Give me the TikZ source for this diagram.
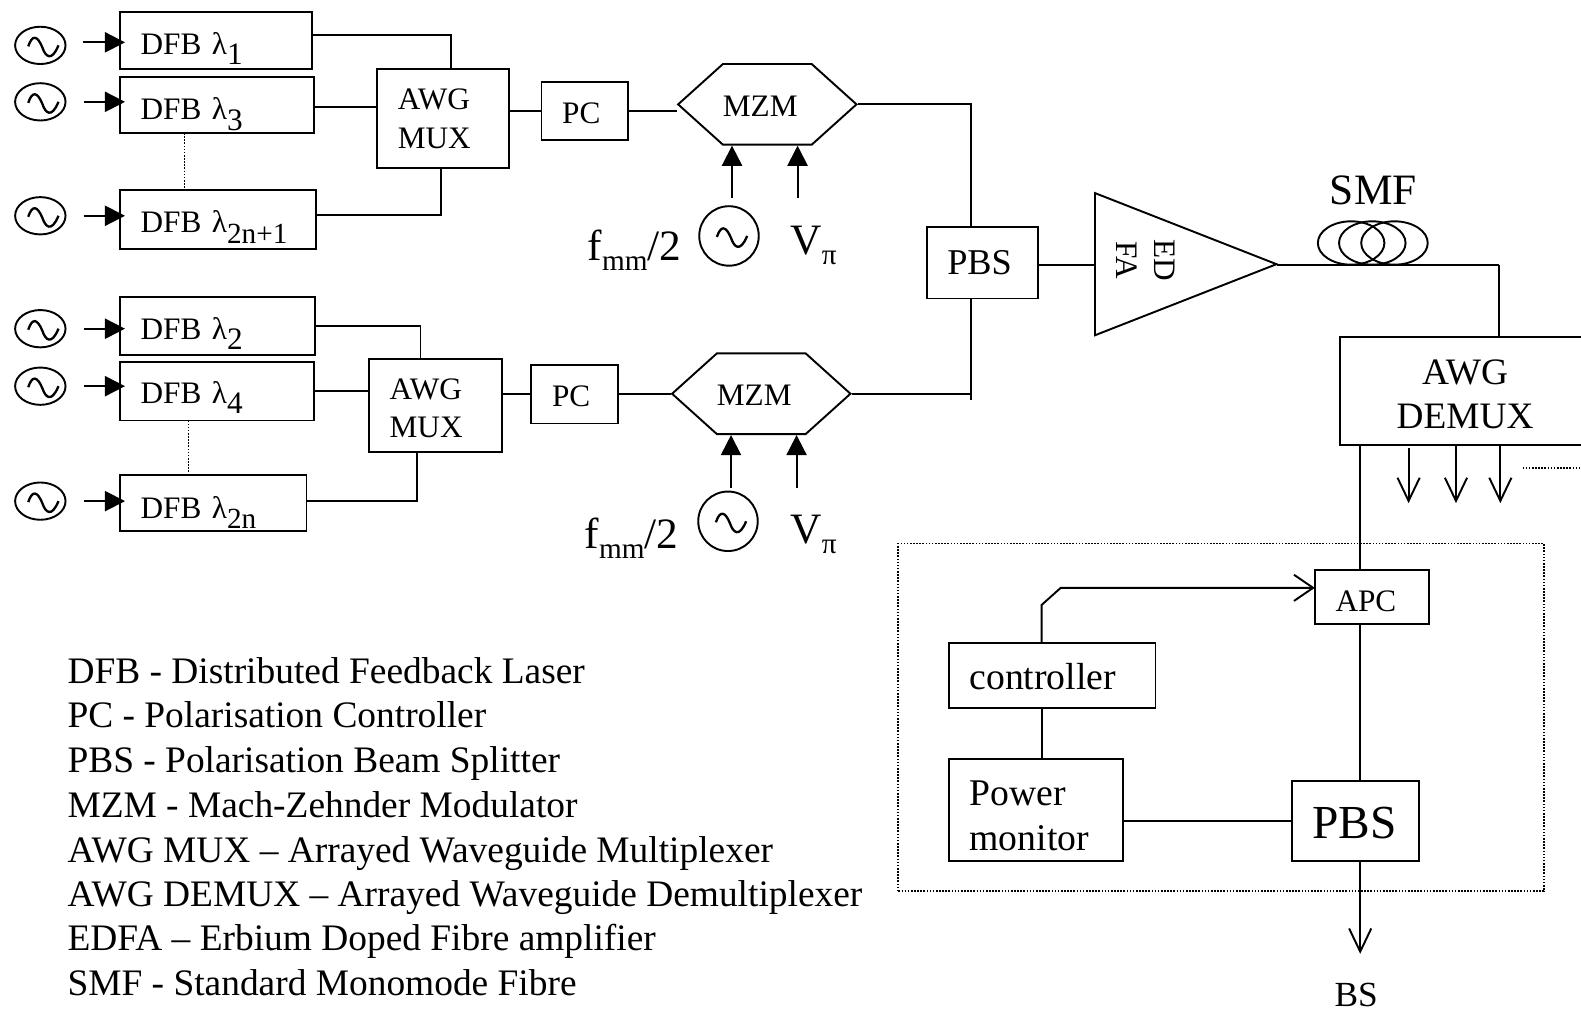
\documentclass[tikz,border=0pt]{standalone}
\usepackage{fontspec}
\setmainfont{Liberation Serif}
\usetikzlibrary{arrows.meta,shapes.geometric,shapes.symbols}

\newcommand{\lowidx}[1]{\raisebox{-10pt}{#1}}
\newcommand{\fsz}[1]{\fontsize{#1}{#1}\selectfont}

\begin{document}
\begin{tikzpicture}
[x=1pt,y=-1pt,line width=1.9pt,
wire/.style={black,line cap=butt},
dotline/.style={black,line width=1.8pt,dash pattern=on 1.6pt off 1.5pt},
feedarrow/.style={-{Triangle[length=20pt,width=20pt]},shorten <=17pt,shorten >=-5pt},
drivearrow/.style={-{Triangle[length=20pt,width=20pt]}},
openarrow/.style={-{Straight Barb[length=23pt,width=22pt]}},
blockbox/.style={draw,anchor=north west,inner xsep=20.5pt,inner ysep=0pt,outer sep=0pt,align=left,font=\fontsize{31}{38}\selectfont},
blockdim/.style n args={3}{text width=#1-41pt,text height=#2,text depth=#3},
sinewave/.style={path picture={\draw[shift={(path picture bounding box.center)},scale=#1,line width=2.3pt] (-12,1) .. controls (-8,-11) and (-3,-10) .. (2,2) .. controls (5,11) and (11,17) .. (18,0);}},
srcnode/.style={ellipse,draw,inner sep=0pt,minimum width=50,minimum height=37,sinewave=1.05},
drivenode/.style={circle,draw,inner sep=0pt,minimum size=59,sinewave=1.2},
mzmnode/.style={signal,signal to=west and east,signal pointer angle=84,draw,inner sep=0pt,minimum width=176,minimum height=80,text height=24,text depth=0,font=\fsz{31}},
coilnode/.style={ellipse,draw,inner sep=0pt,minimum width=66,minimum height=43},
labeltext/.style={anchor=base west,inner sep=0pt,font=\fsz{43}},
legendtext/.style={anchor=base west,inner sep=0pt,font=\fsz{37.1}}]

\useasboundingbox (0,0) rectangle (1568,1004);

% Upper laser bank
\node[srcnode](srcone) at (40,45){};
\node[srcnode](srcthree) at (40,101){};
\node[srcnode](srcodd) at (40,214){};
\node[blockbox,blockdim={190}{42}{14}](dfbone) at (119,12){DFB λ\lowidx{1}};
\node[blockbox,blockdim={192}{43}{13}](dfbthree) at (119,76){DFB λ\lowidx{3}};
\node[blockbox,blockdim={194}{43}{16}](dfbodd) at (119,188){DFB λ\lowidx{\fsz{29}2n+1}};
\coordinate (feedone) at (65,42);
\draw[wire,feedarrow] (feedone) -- (feedone -| dfbone.west);
\draw[wire,feedarrow] (srcthree.east) -- (srcthree.east -| dfbthree.west);
\draw[wire,feedarrow] (srcodd.east) -- (srcodd.east -| dfbodd.west);
\coordinate (dotup) at (183,160);
\draw[dotline] (dotup |- dfbthree.south) -- (dotup |- dfbodd.north);

% Upper mux and modulator
\node[blockbox,blockdim={131}{41}{58}](muxup) at (374,68){AWG\\MUX};
\coordinate (joinone) at (447,35);
\coordinate (jointhree) at (340,106);
\coordinate (joinodd) at (437,213);
\draw[wire] (dfbone.east |- joinone) -- (joinone) -- (joinone |- muxup.north);
\draw[wire] (dfbthree.east |- jointhree) -- (jointhree -| muxup.west);
\draw[wire] (dfbodd.east |- joinodd) -- (joinodd) -- (joinodd |- muxup.south);
\node[blockbox,blockdim={86}{41}{17}](pcup) at (537,81){PC};
\draw[wire] (muxup.east |- pcup.west) -- (pcup.west);
\node[mzmnode](mzmup) at (761,103.5){MZM\hspace*{14pt}};
\draw[wire] (pcup.east) -- (pcup.east -| mzmup.west);
\coordinate (driveupa) at (726,196);
\coordinate (driveupb) at (791,196);
\draw[wire,drivearrow] (driveupa) -- (driveupa |- mzmup.south);
\draw[wire,drivearrow] (driveupb) -- (driveupb |- mzmup.south);
\node[drivenode](driveup) at (723,234){};
\node[labeltext](fmmup) at (582,258){f\lowidx{\fsz{29}mm}/2};
\node[labeltext](vpiup) at (783,252){V\lowidx{\fsz{29}π}};

% Lower laser bank
\node[srcnode](srctwo) at (40,326){};
\node[srcnode](srcfour) at (40,383){};
\node[srcnode](srceven) at (40,497){};
\node[blockbox,blockdim={193}{42}{15}](dfbtwo) at (119,295){DFB λ\lowidx{2}};
\node[blockbox,blockdim={192}{41}{17}](dfbfour) at (119,359){DFB λ\lowidx{4}};
\node[blockbox,blockdim={185}{43}{13}](dfbeven) at (119,471){DFB λ\lowidx{\fsz{29}2n}};
\draw[wire,feedarrow] (srctwo.east) -- (srctwo.east -| dfbtwo.west);
\draw[wire,feedarrow] (srcfour.east) -- (srcfour.east -| dfbfour.west);
\draw[wire,feedarrow] (srceven.east) -- (srceven.east -| dfbeven.west);
\coordinate (dotlow) at (187,440);
\draw[dotline] (dotlow |- dfbfour.south) -- (dotlow |- dfbeven.north);

% Lower mux and modulator
\node[blockbox,blockdim={132}{40}{52}](muxlow) at (366,356){AWG\\MUX};
\coordinate (jointwo) at (417,323);
\coordinate (joinfour) at (340,388);
\coordinate (joineven) at (414,497);
\draw[wire] (dfbtwo.east |- jointwo) -- (jointwo) -- (jointwo |- muxlow.north);
\draw[wire] (dfbfour.east |- joinfour) -- (joinfour -| muxlow.west);
\draw[wire] (dfbeven.east |- joineven) -- (joineven) -- (joineven |- muxlow.south);
\node[blockbox,blockdim={86}{41}{17}](pclow) at (527,362){PC};
\draw[wire] (muxlow.east |- pclow.west) -- (pclow.west);
\node[mzmnode](mzmlow) at (755,390.5){MZM\hspace*{14pt}};
\draw[wire] (pclow.east) -- (pclow.east -| mzmlow.west);
\coordinate (drivelowa) at (725,484);
\coordinate (drivelowb) at (790,484);
\draw[wire,drivearrow] (drivelowa) -- (drivelowa |- mzmlow.south);
\draw[wire,drivearrow] (drivelowb) -- (drivelowb |- mzmlow.south);
\node[drivenode](drivelow) at (722,517){};
\node[labeltext](fmmlow) at (579,544){f\lowidx{\fsz{29}mm}/2};
\node[labeltext](vpilow) at (783,539){V\lowidx{\fsz{29}π}};

% Beam combiner
\node[blockbox,blockdim={110}{47}{24},font=\fsz{36}](pbs) at (919,225){PBS};
\coordinate (combx) at (963,103);
\draw[wire] (mzmup.east) -- (mzmup.east -| combx) -- (combx |- pbs.north);
\coordinate (comblow) at (963,397);
\draw[wire] (pbs.south -| comblow) -- (comblow);
\draw[wire] (mzmlow.east) -- (mzmlow.east -| comblow);

% Amplifier and fibre
\node[isosceles triangle,isosceles triangle stretches,draw,inner sep=0pt,outer sep=0pt,minimum width=141,minimum height=180,anchor=apex](edfa) at (1266,262){};
\node[rotate=-90,align=center,inner sep=0pt,font=\fontsize{31}{38}\selectfont](edfatext) at (1136,258){ED\\FA};
\coordinate (edfain) at (1086,263);
\coordinate (fibreend) at (1487,263);
\draw[wire] (pbs.east |- edfain) -- (edfain);
\draw[wire] (edfa.apex |- fibreend) -- (fibreend);
\node[coilnode](smfa) at (1340,241){};
\node[coilnode](smfb) at (1361,241){};
\node[coilnode](smfc) at (1383,241){};
\node[anchor=base,inner sep=0pt,font=\fsz{43}](smflabel) at (1362,203){SMF};

% Demux
\node[blockbox,blockdim={248}{47}{60},align=center,font=\fontsize{37}{44}\selectfont](demux) at (1329,334){AWG\\DEMUX};
\draw[wire] (fibreend) -- (fibreend |- demux.north);
\coordinate (tapa) at (1397,499);
\coordinate (tapb) at (1444,499);
\coordinate (tapc) at (1488,499);
\draw[wire,openarrow] (tapa |- 0,444) -- (tapa);
\draw[wire,openarrow] (tapb |- demux.south) -- (tapb);
\draw[wire,openarrow] (tapc |- demux.south) -- (tapc);
\coordinate (dotdemux) at (1510,464);
\coordinate (dotdemuxend) at (1568,464);
\draw[dotline] (dotdemux) -- (dotdemuxend);

% Polarisation control loop
\node[draw,dotline,anchor=north west,inner sep=0pt,outer sep=0pt,minimum width=640,minimum height=345](loopbox) at (891,539){};
\node[blockbox,blockdim={113}{41}{13}](apc) at (1304,565){APC};
\node[blockbox,blockdim={126}{57}{22},font=\fsz{47}](pbsrx) at (1281,775){PBS};
\node[blockbox,blockdim={205}{46}{18},font=\fsz{37.4}](ctrl) at (941,638){controller};
\node[blockbox,blockdim={173}{46}{55},font=\fontsize{37.4}{44}\selectfont](monitor) at (941,753){Power\\monitor};
\coordinate (rxline) at (1349,500);
\coordinate (bsend) at (1349,946);
\coordinate (ctrlup) at (1033,600);
\coordinate (ctrlbend) at (1052,583);
\draw[wire] (demux.south -| rxline) -- (rxline |- apc.north);
\draw[wire] (apc.south -| rxline) -- (rxline |- pbsrx.north);
\draw[wire,openarrow] (pbsrx.south -| rxline) -- (bsend);
\draw[wire] (ctrl.south -| ctrlup) -- (ctrlup |- monitor.north);
\draw[wire,-{Straight Barb[length=19pt,width=26pt]}] (ctrl.north -| ctrlup) -- (ctrlup) -- (ctrlbend) -- (ctrlbend -| apc.west);
\coordinate (monline) at (1200,814);
\draw[wire] (monitor.east |- monline) -- (pbsrx.west |- monline);
\node[anchor=base,inner sep=0pt,font=\fsz{35}](bslabel) at (1345,998){BS};

% Legend
\node[legendtext](legdfb) at (66,678){DFB - Distributed Feedback Laser};
\node[legendtext](legpc) at (66,722){PC - Polarisation Controller};
\node[legendtext](legpbs) at (66,766){PBS - Polarisation Beam Splitter};
\node[legendtext](legmzm) at (66,811){MZM - Mach-Zehnder Modulator};
\node[legendtext](legmux) at (66,855){AWG MUX – Arrayed Waveguide Multiplexer};
\node[legendtext](legdemux) at (66,899){AWG DEMUX – Arrayed Waveguide Demultiplexer};
\node[legendtext](legedfa) at (66,943){EDFA – Erbium Doped Fibre amplifier};
\node[legendtext](legsmf) at (66,987){SMF - Standard Monomode Fibre};

\end{tikzpicture}
\end{document}
